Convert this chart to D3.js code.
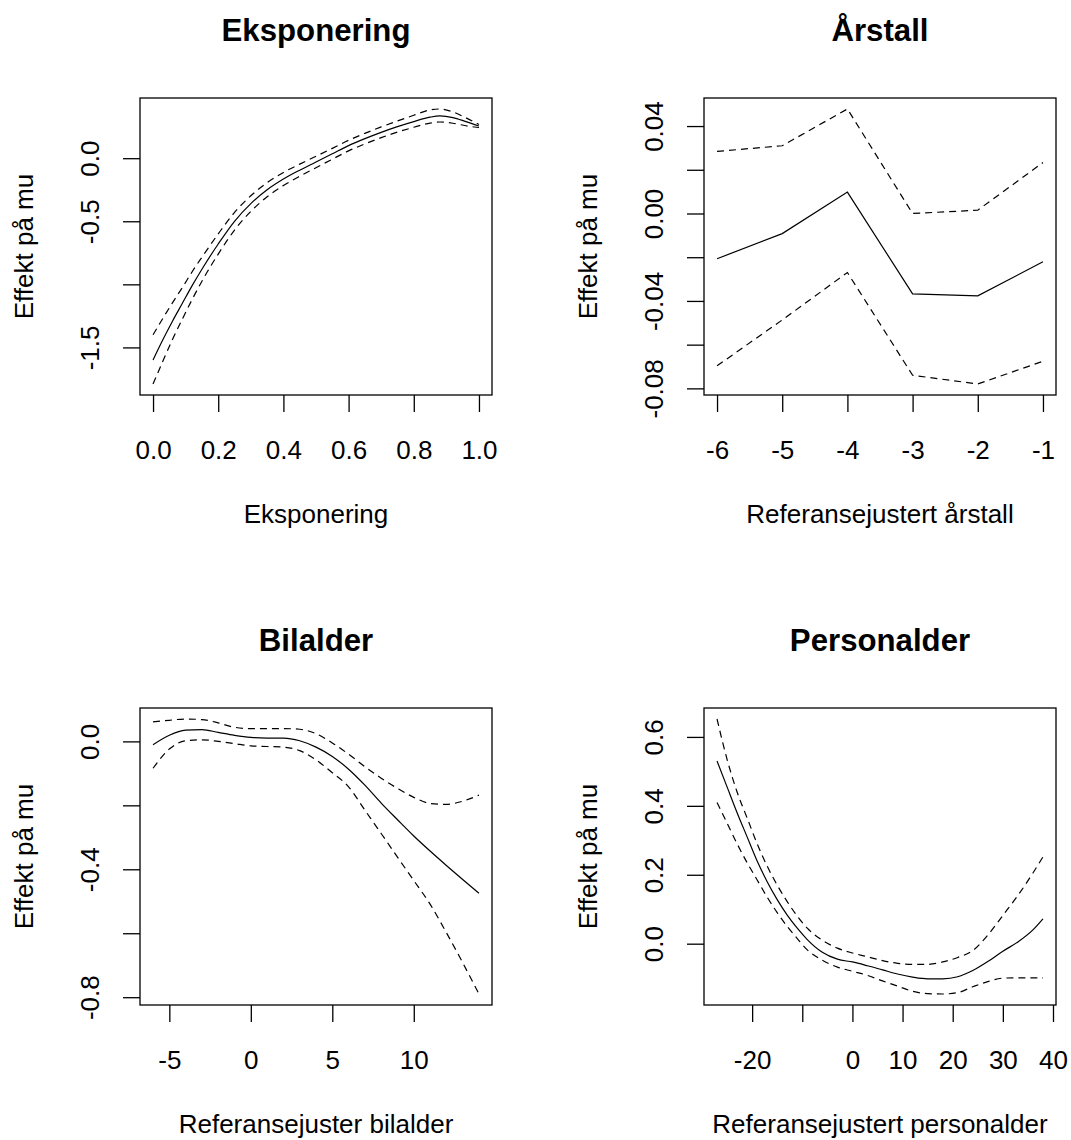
<!DOCTYPE html>
<html>
<head>
<meta charset="utf-8">
<script src="https://cdn.jsdelivr.net/npm/d3@7"></script>
<style>
  body { margin: 0; background: #fff; }
  text { font-family: "Liberation Sans", Arial, sans-serif; fill: #000; }
</style>
</head>
<body>
<div id="chart"></div>
<script>
// Eksponering
var ekspX     = [0, 0.03, 0.06, 0.09, 0.12, 0.15, 0.2, 0.25, 0.3, 0.35, 0.4, 0.45, 0.5, 0.55, 0.6, 0.65, 0.7, 0.75, 0.8, 0.85, 0.88, 0.92, 0.96, 1.0];
var ekspFit   = [-1.60, -1.44, -1.29, -1.15, -1.01, -0.88, -0.68, -0.50, -0.36, -0.25, -0.165, -0.095, -0.03, 0.035, 0.10, 0.155, 0.205, 0.25, 0.29, 0.325, 0.335, 0.322, 0.29, 0.255];
var ekspUpper = [-1.40, -1.27, -1.145, -1.025, -0.90, -0.785, -0.60, -0.43, -0.298, -0.194, -0.113, -0.047, 0.015, 0.078, 0.142, 0.197, 0.248, 0.295, 0.34, 0.383, 0.39, 0.367, 0.32, 0.267];
var ekspLower = [-1.79, -1.61, -1.435, -1.275, -1.12, -0.975, -0.76, -0.57, -0.422, -0.306, -0.217, -0.143, -0.075, -0.008, 0.058, 0.113, 0.163, 0.207, 0.245, 0.278, 0.287, 0.277, 0.257, 0.243];
var ekspXTicks = [0, 0.2, 0.4, 0.6, 0.8, 1.0];
var ekspXLabels = ['0.0', '0.2', '0.4', '0.6', '0.8', '1.0'];
var ekspYTicks = [0, -0.5, -1.0, -1.5];
var ekspYLabels = ['0.0', '-0.5', '', '-1.5'];

// Årstall
var yrX     = [-6, -5, -4, -3, -2, -1];
var yrFit   = [-0.0207, -0.0092, 0.0098, -0.0368, -0.0377, -0.0221];
var yrUpper = [0.0284, 0.031, 0.0478, 0.0000, 0.0015, 0.0233];
var yrLower = [-0.0697, -0.0487, -0.027, -0.0740, -0.0780, -0.0676];
var yrXTicks = [-6, -5, -4, -3, -2, -1];
var yrXLabels = ['-6', '-5', '-4', '-3', '-2', '-1'];
var yrYTicks = [0.04, 0.02, 0.00, -0.02, -0.04, -0.06, -0.08];
var yrYLabels = ['0.04', '', '0.00', '', '-0.04', '', '-0.08'];

// Bilalder
var bilX     = [-6, -5, -4, -3, -2, -1, 0, 1, 2, 3, 4, 5, 6, 7, 8, 9, 10, 11, 12, 13, 14];
var bilFit   = [-0.0105, 0.019, 0.035, 0.037, 0.028, 0.019, 0.0126, 0.0105, 0.0105, 0.002, -0.018, -0.047, -0.087, -0.137, -0.193, -0.245, -0.296, -0.343, -0.388, -0.432, -0.475];
var bilUpper = [0.061, 0.066, 0.070, 0.068, 0.058, 0.044, 0.040, 0.040, 0.040, 0.038, 0.024, -0.005, -0.040, -0.079, -0.115, -0.147, -0.175, -0.194, -0.197, -0.187, -0.168];
var bilLower = [-0.084, -0.024, 0.002, 0.005, 0.000, -0.007, -0.014, -0.016, -0.018, -0.029, -0.058, -0.098, -0.142, -0.215, -0.288, -0.362, -0.435, -0.509, -0.598, -0.692, -0.790];
var bilXTicks = [-5, 0, 5, 10];
var bilXLabels = ['-5', '0', '5', '10'];
var bilYTicks = [0.0, -0.2, -0.4, -0.6, -0.8];
var bilYLabels = ['0.0', '', '-0.4', '', '-0.8'];

// Personalder
var perX     = [-27, -25, -23, -21, -19, -17, -15, -13, -11, -9, -6, -3, 0, 3, 6, 9, 12, 15, 18, 21, 24, 27, 30, 33, 36, 38];
var perFit   = [0.53, 0.455, 0.38, 0.31, 0.24, 0.18, 0.128, 0.083, 0.045, 0.012, -0.025, -0.045, -0.053, -0.064, -0.076, -0.088, -0.097, -0.102, -0.102, -0.096, -0.078, -0.052, -0.022, 0.005, 0.04, 0.072];
var perUpper = [0.652, 0.535, 0.44, 0.365, 0.29, 0.225, 0.17, 0.122, 0.08, 0.045, 0.01, -0.013, -0.027, -0.038, -0.049, -0.057, -0.06, -0.06, -0.053, -0.04, -0.02, 0.025, 0.082, 0.14, 0.205, 0.252];
var perLower = [0.41, 0.35, 0.29, 0.235, 0.185, 0.135, 0.09, 0.05, 0.015, -0.018, -0.048, -0.068, -0.08, -0.092, -0.108, -0.123, -0.138, -0.145, -0.146, -0.142, -0.125, -0.11, -0.10, -0.099, -0.099, -0.099];
var perXTicks = [-20, -10, 0, 10, 20, 30, 40];
var perXLabels = ['-20', '', '0', '10', '20', '30', '40'];
var perYTicks = [0.0, 0.2, 0.4, 0.6];
var perYLabels = ['0.0', '0.2', '0.4', '0.6'];

var width = 1071, height = 1140;
var boxW = 352, boxH = 297;

var svg = d3.select('#chart')
            .append('svg')
            .attr('width', width)
            .attr('height', height);

// R style: data range plus 4% on each side
function padded(ext) {
    var r = ext[1] - ext[0];
    return [ext[0] - 0.04 * r, ext[1] + 0.04 * r];
}

function drawPanel(p) {
    var x0 = p.left, x1 = p.left + boxW, y0 = p.top, y1 = p.top + boxH;
    var g = svg.append('g');

    var xScale = d3.scaleLinear()
        .domain(padded(d3.extent(p.x)))
        .range([x0, x1]);
    var yScale = d3.scaleLinear()
        .domain(padded(d3.extent(p.fit.concat(p.upper, p.lower))))
        .range([y1, y0]);

    var line = d3.line()
        .x(function(d) { return xScale(d[0]); })
        .y(function(d) { return yScale(d[1]); })
        .curve(p.curve);

    var series = [
        {vals: p.upper, dash: '7,5'},
        {vals: p.lower, dash: '7,5'},
        {vals: p.fit, dash: null}
    ];
    g.selectAll('path.curve')
        .data(series)
        .enter()
        .append('path')
        .attr('class', 'curve')
        .attr('d', function(s) { return line(d3.zip(p.x, s.vals)); })
        .attr('fill', 'none')
        .attr('stroke', '#000')
        .attr('stroke-width', 1.2)
        .attr('stroke-dasharray', function(s) { return s.dash; });

    // box
    g.append('rect')
        .attr('x', x0).attr('y', y0)
        .attr('width', boxW).attr('height', boxH)
        .attr('fill', 'none')
        .attr('stroke', '#000')
        .attr('stroke-width', 1.3);

    var xAxis = g.append('g')
        .attr('transform', 'translate(0,' + y1 + ')')
        .call(d3.axisBottom(xScale)
            .tickValues(p.xTicks)
            .tickSize(17)
            .tickFormat(function(d, i) { return p.xLabels[i]; }));
    xAxis.attr('font-size', 26);
    xAxis.select('.domain').remove();
    xAxis.selectAll('line').attr('stroke-width', 1.3);
    xAxis.selectAll('text').attr('y', 64).attr('dy', null);

    var yAxis = g.append('g')
        .attr('transform', 'translate(' + x0 + ',0)')
        .call(d3.axisLeft(yScale)
            .tickValues(p.yTicks)
            .tickSize(17)
            .tickFormat(function(d, i) { return p.yLabels[i]; }));
    yAxis.attr('font-size', 26);
    yAxis.select('.domain').remove();
    yAxis.selectAll('line').attr('stroke-width', 1.3);
    yAxis.selectAll('text')
        .attr('transform', 'rotate(-90)')
        .attr('x', 0)
        .attr('y', -41)
        .attr('dy', null)
        .attr('text-anchor', 'middle');

    // titles
    g.append('text')
        .attr('x', (x0 + x1) / 2)
        .attr('y', y0 - 57)
        .attr('text-anchor', 'middle')
        .attr('font-size', 31.2)
        .attr('font-weight', 'bold')
        .text(p.title);

    g.append('text')
        .attr('x', (x0 + x1) / 2)
        .attr('y', y1 + 128)
        .attr('text-anchor', 'middle')
        .attr('font-size', 26)
        .text(p.xTitle);

    g.append('text')
        .attr('transform', 'translate(' + (x0 - 107) + ',' + (y0 + y1) / 2 + ') rotate(-90)')
        .attr('text-anchor', 'middle')
        .attr('font-size', 26)
        .text('Effekt på mu');
}

drawPanel({left: 140, top: 98, title: 'Eksponering', xTitle: 'Eksponering',
    x: ekspX, fit: ekspFit, upper: ekspUpper, lower: ekspLower, curve: d3.curveMonotoneX,
    xTicks: ekspXTicks, xLabels: ekspXLabels, yTicks: ekspYTicks, yLabels: ekspYLabels});

drawPanel({left: 704, top: 98, title: 'Årstall', xTitle: 'Referansejustert årstall',
    x: yrX, fit: yrFit, upper: yrUpper, lower: yrLower, curve: d3.curveLinear,
    xTicks: yrXTicks, xLabels: yrXLabels, yTicks: yrYTicks, yLabels: yrYLabels});

drawPanel({left: 140, top: 708, title: 'Bilalder', xTitle: 'Referansejuster bilalder',
    x: bilX, fit: bilFit, upper: bilUpper, lower: bilLower, curve: d3.curveMonotoneX,
    xTicks: bilXTicks, xLabels: bilXLabels, yTicks: bilYTicks, yLabels: bilYLabels});

drawPanel({left: 704, top: 708, title: 'Personalder', xTitle: 'Referansejustert personalder',
    x: perX, fit: perFit, upper: perUpper, lower: perLower, curve: d3.curveMonotoneX,
    xTicks: perXTicks, xLabels: perXLabels, yTicks: perYTicks, yLabels: perYLabels});
</script>
</body>
</html>
